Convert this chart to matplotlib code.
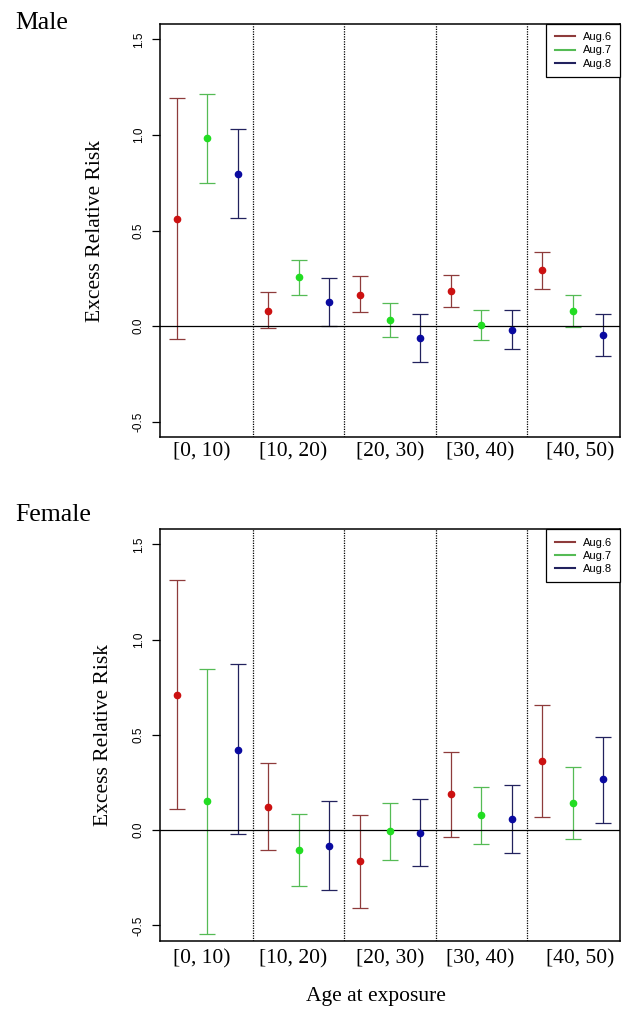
import numpy as np
import matplotlib.pyplot as plt

plt.rcParams['font.family'] = ['Liberation Serif', 'DejaVu Serif']

groups = ['[0, 10)', '[10, 20)', '[20, 30)', '[30, 40)', '[40, 50)']
series = ['Aug.6', 'Aug.7', 'Aug.8']

# male: estimate, lower, upper  (rows = age groups, cols = Aug.6/7/8)
male_est = [[0.562, 0.982, 0.798],
            [0.081, 0.257, 0.124],
            [0.165, 0.030, -0.063],
            [0.182, 0.007, -0.019],
            [0.291, 0.077, -0.045]]
male_lo = [[-0.068, 0.748, 0.566],
           [-0.008, 0.165, 0.002],
           [0.072, -0.058, -0.185],
           [0.100, -0.075, -0.119],
           [0.196, -0.002, -0.154]]
male_hi = [[1.192, 1.213, 1.031],
           [0.179, 0.345, 0.252],
           [0.261, 0.121, 0.065],
           [0.265, 0.086, 0.082],
           [0.389, 0.165, 0.061]]

female_est = [[0.711, 0.153, 0.423],
              [0.123, -0.105, -0.082],
              [-0.163, -0.005, -0.014],
              [0.188, 0.079, 0.060],
              [0.361, 0.144, 0.267]]
female_lo = [[0.109, -0.544, -0.021],
             [-0.105, -0.293, -0.316],
             [-0.407, -0.154, -0.189],
             [-0.035, -0.075, -0.119],
             [0.070, -0.044, 0.038]]
female_hi = [[1.312, 0.847, 0.874],
             [0.351, 0.083, 0.153],
             [0.079, 0.144, 0.161],
             [0.409, 0.228, 0.237],
             [0.658, 0.333, 0.488]]

bar_colors = ['#8e3b3b', '#55bb55', '#22225e']
pt_colors = ['#cc1111', '#22dd22', '#0a0aa0']
label_pos = [1.81, 4.83, 8.0, 10.98, 14.24]

fig = plt.figure(figsize=(6.33, 10.23), dpi=100)


def panel(rect, est, lo, hi, xpad):
    ax = fig.add_axes(rect)
    est = np.array(est); lo = np.array(lo); hi = np.array(hi)
    x = np.arange(1, 16).reshape(5, 3)
    for j in range(3):
        e = est[:, j]
        ax.errorbar(x[:, j], e, yerr=[e - lo[:, j], hi[:, j] - e], fmt='none',
                    ecolor=bar_colors[j], elinewidth=0.9, capsize=6, capthick=0.9)
        ax.plot(x[:, j], e, 'o', color=pt_colors[j], ms=4.5, zorder=3)
        ax.plot([], [], color=bar_colors[j], lw=1.5, label=series[j])
    ax.axhline(0, color='black', lw=0.9)
    for b in [3.5, 6.5, 9.5, 12.5]:
        ax.axvline(b, color='black', lw=0.9, ls=(0, (1, 1)))
    ax.set_xlim(0.44, 15.56)
    ax.set_ylim(-0.58, 1.58)
    ax.set_yticks([-0.5, 0.0, 0.5, 1.0, 1.5])
    ax.set_yticklabels(['-0.5', '0.0', '0.5', '1.0', '1.5'],
                       rotation=90, va='center', family='Liberation Sans', fontsize=8.5)
    ax.tick_params(axis='y', length=6, width=0.9, pad=5)
    ax.set_xticks(label_pos)
    ax.set_xticklabels(groups, fontsize=15.5)
    ax.tick_params(axis='x', length=0, pad=xpad)
    for s in ax.spines.values():
        s.set_linewidth(1.1)
    ax.set_ylabel('Excess Relative Risk', fontsize=15.5)
    leg = ax.legend(loc='upper right', borderaxespad=0, fancybox=False,
                    edgecolor='black', framealpha=1, handlelength=1.8,
                    handletextpad=0.7, labelspacing=0.28, borderpad=0.75,
                    prop={'family': 'Liberation Sans', 'size': 8})
    leg.get_frame().set_linewidth(0.9)
    return ax


ax1 = panel([0.2528, 0.5728, 0.7267, 0.4037], male_est, male_lo, male_hi, 4)
ax1.yaxis.set_label_coords(-0.12, 0.5)
ax2 = panel([0.2528, 0.0805, 0.7267, 0.4022], female_est, female_lo, female_hi, 6.5)
ax2.yaxis.set_label_coords(-0.102, 0.5)

fig.text(15 / 633, 1 - 23 / 1023, 'Male', fontsize=18.5, va='center')
fig.text(15 / 633, 1 - 515 / 1023, 'Female', fontsize=18.5, va='center')
fig.text(376 / 633, 1 - 997 / 1023, 'Age at exposure', fontsize=15.5,
         ha='center', va='center')

fig.savefig('out.png', dpi=100)
